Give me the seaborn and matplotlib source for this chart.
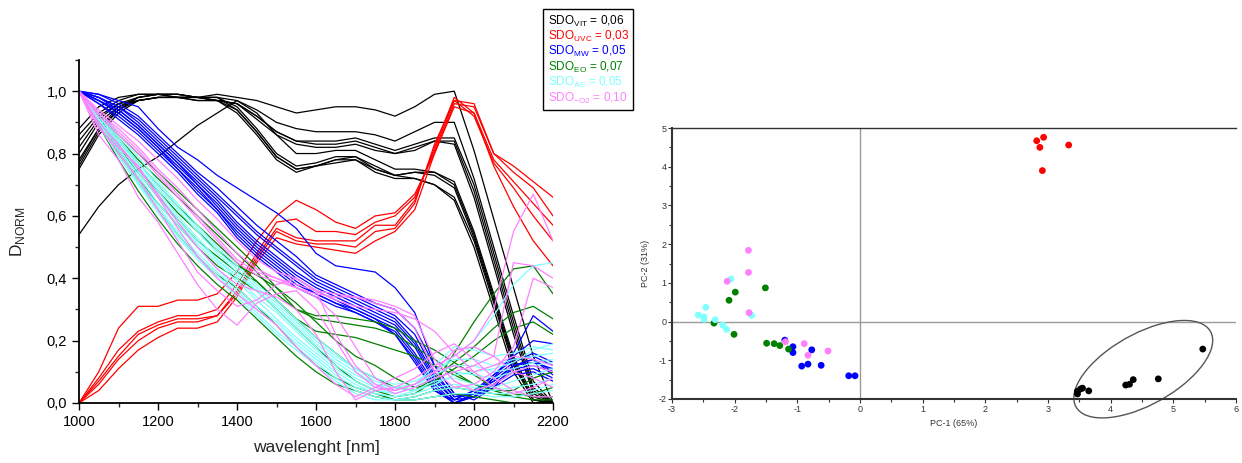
"""Normalised NIR spectra of the six SDO samples and their PCA score plot."""

import matplotlib

matplotlib.use("Agg")
import matplotlib.pyplot as plt
import pandas as pd
import seaborn as sns
from matplotlib.lines import Line2D
from matplotlib.patches import Ellipse
from matplotlib.ticker import MultipleLocator


WAVELENGTH = list(range(1000, 2201, 50))

GROUPS = ["VIT", "UVC", "MW", "EO", "AE", "O2"]
COLORS = ["#000000", "#ff0000", "#0000ff", "#008000", "#80ffff", "#ff80ff"]
LEGEND_LABELS = [
    r"SDO$_\mathregular{VIT}$ = 0,06",
    r"SDO$_\mathregular{UVC}$ = 0,03",
    r"SDO$_\mathregular{MW}$ = 0,05",
    r"SDO$_\mathregular{EO}$ = 0,07",
    r"SDO$_\mathregular{AE}$ = 0,05",
    r"SDO$_\mathregular{-O2}$ = 0,10",
]

# spectra, one list per sample, read every 50 nm
VIT_CURVES = [
    [0.88, 0.95, 0.98, 0.99, 0.99, 0.99, 0.98, 0.99, 0.98, 0.97, 0.95, 0.93, 0.94, 0.95, 0.95, 0.94, 0.92, 0.95, 0.99, 1.00, 0.81, 0.59, 0.37, 0.15, 0.00],
    [0.86, 0.93, 0.97, 0.99, 0.99, 0.98, 0.98, 0.98, 0.97, 0.94, 0.90, 0.88, 0.87, 0.87, 0.87, 0.86, 0.84, 0.87, 0.90, 0.90, 0.72, 0.50, 0.28, 0.07, 0.00],
    [0.84, 0.92, 0.96, 0.98, 0.99, 0.98, 0.98, 0.97, 0.96, 0.92, 0.87, 0.84, 0.83, 0.83, 0.84, 0.82, 0.80, 0.82, 0.84, 0.83, 0.66, 0.44, 0.22, 0.03, 0.00],
    [0.82, 0.91, 0.96, 0.97, 0.98, 0.98, 0.97, 0.97, 0.96, 0.91, 0.86, 0.83, 0.82, 0.82, 0.83, 0.81, 0.80, 0.81, 0.84, 0.84, 0.68, 0.46, 0.24, 0.04, 0.00],
    [0.80, 0.90, 0.95, 0.97, 0.98, 0.98, 0.97, 0.97, 0.96, 0.92, 0.87, 0.84, 0.84, 0.84, 0.85, 0.83, 0.81, 0.83, 0.85, 0.85, 0.70, 0.48, 0.26, 0.05, 0.00],
    [0.78, 0.88, 0.95, 0.98, 0.99, 0.99, 0.98, 0.98, 0.95, 0.88, 0.80, 0.76, 0.77, 0.79, 0.79, 0.76, 0.73, 0.74, 0.74, 0.70, 0.54, 0.34, 0.14, 0.01, 0.00],
    [0.77, 0.88, 0.94, 0.98, 0.99, 0.99, 0.98, 0.98, 0.94, 0.87, 0.79, 0.75, 0.76, 0.78, 0.79, 0.75, 0.73, 0.74, 0.73, 0.69, 0.53, 0.33, 0.13, 0.01, 0.00],
    [0.76, 0.87, 0.94, 0.97, 0.98, 0.98, 0.98, 0.97, 0.94, 0.87, 0.79, 0.75, 0.76, 0.78, 0.78, 0.75, 0.73, 0.72, 0.70, 0.66, 0.52, 0.32, 0.12, 0.01, 0.00],
    [0.75, 0.86, 0.93, 0.97, 0.98, 0.98, 0.98, 0.97, 0.93, 0.86, 0.78, 0.74, 0.76, 0.77, 0.78, 0.74, 0.72, 0.72, 0.70, 0.65, 0.50, 0.30, 0.10, 0.00, 0.00],
    [0.54, 0.63, 0.70, 0.75, 0.79, 0.84, 0.89, 0.93, 0.97, 0.93, 0.86, 0.80, 0.80, 0.81, 0.81, 0.78, 0.75, 0.75, 0.74, 0.71, 0.55, 0.35, 0.15, 0.02, 0.00],
]
UVC_CURVES = [
    [0.00, 0.10, 0.24, 0.31, 0.31, 0.33, 0.33, 0.35, 0.42, 0.52, 0.60, 0.65, 0.62, 0.58, 0.56, 0.60, 0.61, 0.67, 0.80, 0.96, 0.95, 0.80, 0.76, 0.71, 0.66],
    [0.00, 0.08, 0.17, 0.23, 0.26, 0.28, 0.28, 0.30, 0.38, 0.48, 0.58, 0.59, 0.55, 0.55, 0.54, 0.58, 0.60, 0.66, 0.81, 0.97, 0.96, 0.80, 0.74, 0.69, 0.60],
    [0.00, 0.07, 0.15, 0.22, 0.25, 0.27, 0.27, 0.28, 0.36, 0.47, 0.56, 0.53, 0.52, 0.52, 0.52, 0.57, 0.57, 0.65, 0.82, 0.98, 0.93, 0.78, 0.71, 0.64, 0.57],
    [0.00, 0.06, 0.14, 0.20, 0.24, 0.26, 0.26, 0.28, 0.35, 0.46, 0.55, 0.52, 0.51, 0.51, 0.50, 0.55, 0.56, 0.64, 0.83, 0.97, 0.92, 0.77, 0.69, 0.60, 0.52],
    [0.00, 0.04, 0.11, 0.17, 0.21, 0.24, 0.24, 0.26, 0.34, 0.45, 0.53, 0.51, 0.50, 0.49, 0.48, 0.52, 0.55, 0.62, 0.80, 0.95, 0.93, 0.76, 0.63, 0.52, 0.44],
]
MW_CURVES = [
    [1.00, 0.99, 0.97, 0.95, 0.88, 0.82, 0.78, 0.73, 0.69, 0.65, 0.61, 0.56, 0.48, 0.44, 0.43, 0.42, 0.37, 0.29, 0.12, 0.03, 0.01, 0.05, 0.12, 0.14, 0.10],
    [1.00, 0.99, 0.96, 0.92, 0.86, 0.80, 0.74, 0.69, 0.63, 0.57, 0.52, 0.47, 0.41, 0.38, 0.35, 0.32, 0.30, 0.24, 0.12, 0.03, 0.02, 0.08, 0.16, 0.28, 0.23],
    [1.00, 0.98, 0.95, 0.91, 0.85, 0.79, 0.73, 0.67, 0.61, 0.55, 0.50, 0.45, 0.40, 0.37, 0.34, 0.31, 0.28, 0.22, 0.10, 0.02, 0.03, 0.09, 0.15, 0.20, 0.19],
    [1.00, 0.98, 0.95, 0.90, 0.84, 0.78, 0.72, 0.66, 0.60, 0.54, 0.49, 0.44, 0.39, 0.36, 0.33, 0.30, 0.27, 0.20, 0.09, 0.02, 0.03, 0.08, 0.13, 0.16, 0.13],
    [1.00, 0.97, 0.94, 0.89, 0.83, 0.77, 0.71, 0.65, 0.58, 0.52, 0.47, 0.42, 0.38, 0.35, 0.32, 0.29, 0.26, 0.19, 0.08, 0.01, 0.04, 0.07, 0.12, 0.13, 0.11],
    [1.00, 0.97, 0.93, 0.88, 0.82, 0.76, 0.70, 0.64, 0.57, 0.51, 0.46, 0.41, 0.37, 0.34, 0.31, 0.28, 0.25, 0.18, 0.07, 0.01, 0.02, 0.06, 0.11, 0.12, 0.10],
    [1.00, 0.98, 0.94, 0.89, 0.83, 0.77, 0.70, 0.63, 0.56, 0.50, 0.45, 0.40, 0.36, 0.33, 0.30, 0.27, 0.24, 0.16, 0.06, 0.00, 0.03, 0.07, 0.12, 0.14, 0.09],
    [1.00, 0.96, 0.92, 0.87, 0.81, 0.75, 0.69, 0.62, 0.55, 0.49, 0.44, 0.39, 0.35, 0.32, 0.29, 0.26, 0.23, 0.15, 0.05, 0.00, 0.02, 0.06, 0.10, 0.11, 0.08],
    [1.00, 0.97, 0.93, 0.88, 0.82, 0.75, 0.68, 0.62, 0.54, 0.48, 0.43, 0.38, 0.35, 0.32, 0.30, 0.27, 0.22, 0.14, 0.04, 0.01, 0.04, 0.09, 0.14, 0.15, 0.12],
    [1.00, 0.96, 0.91, 0.86, 0.80, 0.74, 0.67, 0.61, 0.53, 0.47, 0.42, 0.37, 0.34, 0.31, 0.29, 0.26, 0.22, 0.13, 0.04, 0.00, 0.02, 0.05, 0.09, 0.10, 0.07],
]
EO_CURVES = [
    [1.00, 0.93, 0.86, 0.80, 0.74, 0.68, 0.62, 0.56, 0.50, 0.44, 0.37, 0.30, 0.28, 0.28, 0.27, 0.26, 0.24, 0.20, 0.17, 0.13, 0.09, 0.05, 0.03, 0.02, 0.02],
    [1.00, 0.92, 0.85, 0.78, 0.72, 0.66, 0.60, 0.54, 0.48, 0.42, 0.35, 0.30, 0.27, 0.26, 0.25, 0.24, 0.22, 0.18, 0.14, 0.10, 0.06, 0.04, 0.02, 0.03, 0.05],
    [1.00, 0.92, 0.84, 0.77, 0.70, 0.63, 0.57, 0.51, 0.45, 0.39, 0.33, 0.27, 0.23, 0.22, 0.21, 0.19, 0.17, 0.15, 0.12, 0.09, 0.06, 0.04, 0.04, 0.08, 0.10],
    [1.00, 0.91, 0.83, 0.75, 0.68, 0.61, 0.55, 0.49, 0.44, 0.41, 0.37, 0.32, 0.26, 0.20, 0.15, 0.12, 0.08, 0.05, 0.06, 0.16, 0.26, 0.35, 0.43, 0.44, 0.35],
    [1.00, 0.91, 0.82, 0.74, 0.66, 0.59, 0.52, 0.47, 0.42, 0.39, 0.33, 0.27, 0.21, 0.16, 0.11, 0.08, 0.05, 0.04, 0.08, 0.13, 0.18, 0.24, 0.29, 0.31, 0.27],
    [1.00, 0.90, 0.81, 0.72, 0.64, 0.57, 0.50, 0.44, 0.40, 0.36, 0.30, 0.24, 0.18, 0.12, 0.07, 0.04, 0.02, 0.03, 0.07, 0.11, 0.15, 0.20, 0.24, 0.26, 0.22],
    [1.00, 0.90, 0.80, 0.71, 0.62, 0.54, 0.47, 0.41, 0.37, 0.31, 0.25, 0.18, 0.12, 0.08, 0.05, 0.03, 0.01, 0.02, 0.04, 0.05, 0.04, 0.03, 0.02, 0.01, 0.01],
    [1.00, 0.89, 0.78, 0.68, 0.59, 0.51, 0.44, 0.38, 0.33, 0.27, 0.21, 0.15, 0.10, 0.06, 0.04, 0.02, 0.01, 0.01, 0.02, 0.03, 0.02, 0.01, 0.00, 0.00, 0.00],
]
AE_CURVES = [
    [1.00, 0.93, 0.86, 0.79, 0.71, 0.64, 0.57, 0.50, 0.44, 0.38, 0.33, 0.27, 0.21, 0.16, 0.11, 0.08, 0.06, 0.07, 0.10, 0.15, 0.20, 0.28, 0.38, 0.44, 0.45],
    [1.00, 0.92, 0.85, 0.77, 0.69, 0.62, 0.55, 0.48, 0.42, 0.36, 0.31, 0.25, 0.19, 0.14, 0.10, 0.06, 0.04, 0.06, 0.12, 0.18, 0.17, 0.15, 0.16, 0.18, 0.17],
    [1.00, 0.92, 0.84, 0.76, 0.68, 0.60, 0.53, 0.46, 0.40, 0.34, 0.29, 0.23, 0.17, 0.12, 0.08, 0.05, 0.03, 0.05, 0.10, 0.14, 0.14, 0.12, 0.14, 0.15, 0.16],
    [1.00, 0.91, 0.83, 0.74, 0.66, 0.58, 0.51, 0.45, 0.39, 0.33, 0.27, 0.21, 0.16, 0.11, 0.07, 0.04, 0.03, 0.05, 0.08, 0.10, 0.09, 0.08, 0.10, 0.12, 0.13],
    [1.00, 0.91, 0.82, 0.73, 0.64, 0.57, 0.50, 0.43, 0.37, 0.31, 0.26, 0.20, 0.15, 0.10, 0.06, 0.03, 0.02, 0.04, 0.07, 0.08, 0.06, 0.05, 0.07, 0.09, 0.11],
    [1.00, 0.90, 0.81, 0.72, 0.63, 0.55, 0.48, 0.42, 0.36, 0.30, 0.25, 0.19, 0.14, 0.09, 0.05, 0.03, 0.02, 0.03, 0.05, 0.06, 0.05, 0.04, 0.05, 0.06, 0.08],
    [1.00, 0.90, 0.80, 0.71, 0.62, 0.54, 0.47, 0.41, 0.35, 0.29, 0.23, 0.18, 0.13, 0.08, 0.04, 0.02, 0.01, 0.02, 0.04, 0.05, 0.04, 0.03, 0.03, 0.04, 0.06],
    [1.00, 0.89, 0.79, 0.70, 0.61, 0.53, 0.46, 0.40, 0.34, 0.28, 0.22, 0.17, 0.12, 0.07, 0.03, 0.01, 0.01, 0.01, 0.02, 0.03, 0.03, 0.02, 0.02, 0.03, 0.04],
    [1.00, 0.91, 0.83, 0.75, 0.67, 0.59, 0.52, 0.46, 0.41, 0.36, 0.30, 0.24, 0.18, 0.13, 0.09, 0.06, 0.05, 0.06, 0.09, 0.12, 0.12, 0.10, 0.11, 0.13, 0.14],
    [1.00, 0.92, 0.84, 0.77, 0.70, 0.63, 0.56, 0.49, 0.43, 0.37, 0.32, 0.26, 0.20, 0.15, 0.11, 0.07, 0.05, 0.04, 0.06, 0.09, 0.10, 0.11, 0.13, 0.17, 0.19],
]
O2_CURVES = [
    [1.00, 0.86, 0.78, 0.66, 0.58, 0.48, 0.38, 0.30, 0.25, 0.32, 0.35, 0.36, 0.30, 0.20, 0.10, 0.05, 0.04, 0.06, 0.10, 0.12, 0.10, 0.12, 0.15, 0.14, 0.12],
    [1.00, 0.89, 0.80, 0.72, 0.62, 0.52, 0.42, 0.36, 0.31, 0.33, 0.38, 0.40, 0.36, 0.22, 0.12, 0.06, 0.03, 0.05, 0.08, 0.10, 0.12, 0.15, 0.45, 0.44, 0.40],
    [1.00, 0.90, 0.83, 0.75, 0.67, 0.58, 0.50, 0.43, 0.38, 0.36, 0.34, 0.30, 0.22, 0.10, 0.01, 0.04, 0.05, 0.08, 0.12, 0.15, 0.20, 0.30, 0.55, 0.67, 0.52],
    [1.00, 0.92, 0.86, 0.80, 0.73, 0.66, 0.59, 0.52, 0.45, 0.41, 0.39, 0.37, 0.34, 0.28, 0.18, 0.08, 0.04, 0.06, 0.10, 0.17, 0.18, 0.15, 0.10, 0.08, 0.05],
    [1.00, 0.93, 0.88, 0.82, 0.75, 0.69, 0.62, 0.55, 0.48, 0.43, 0.40, 0.37, 0.35, 0.34, 0.34, 0.33, 0.31, 0.28, 0.14, 0.07, 0.04, 0.06, 0.10, 0.12, 0.10],
    [1.00, 0.93, 0.87, 0.81, 0.74, 0.67, 0.60, 0.53, 0.46, 0.42, 0.40, 0.38, 0.36, 0.35, 0.34, 0.32, 0.30, 0.24, 0.10, 0.05, 0.06, 0.10, 0.18, 0.40, 0.37],
    [1.00, 0.94, 0.89, 0.84, 0.78, 0.72, 0.65, 0.59, 0.52, 0.46, 0.42, 0.40, 0.36, 0.33, 0.31, 0.30, 0.29, 0.27, 0.23, 0.16, 0.10, 0.05, 0.03, 0.05, 0.08],
    [1.00, 0.88, 0.82, 0.76, 0.66, 0.56, 0.47, 0.40, 0.35, 0.30, 0.25, 0.18, 0.12, 0.06, 0.02, 0.05, 0.08, 0.11, 0.16, 0.19, 0.14, 0.08, 0.04, 0.02, 0.02],
]

# PCA scores
PC1 = {
    "VIT": [3.47, 3.47, 3.52, 3.55, 3.65, 4.24, 4.30, 4.36, 4.76, 5.47],
    "UVC": [2.82, 2.93, 2.87, 3.33, 2.91],
    "MW": [-1.20, -1.07, -1.07, -0.77, -0.83, -0.93, -0.62, -0.18, -0.08],
    "EO": [-1.51, -1.99, -2.09, -2.33, -2.01, -1.49, -1.37, -1.28, -1.14],
    "AE": [-2.06, -2.46, -2.58, -2.49, -2.49, -2.31, -2.19, -2.13, -1.73],
    "O2": [-1.78, -1.78, -2.12, -1.77, -1.19, -0.89, -0.83, -0.51],
}
PC2 = {
    "VIT": [-1.87, -1.80, -1.74, -1.72, -1.79, -1.64, -1.62, -1.50, -1.48, -0.71],
    "UVC": [4.67, 4.76, 4.50, 4.56, 3.90],
    "MW": [-0.48, -0.65, -0.80, -0.73, -1.10, -1.15, -1.13, -1.40, -1.40],
    "EO": [0.87, 0.76, 0.55, -0.04, -0.33, -0.56, -0.57, -0.62, -0.71],
    "AE": [1.10, 0.37, 0.17, 0.12, 0.06, 0.05, -0.09, -0.20, 0.16],
    "O2": [1.84, 1.27, 1.04, 0.23, -0.52, -0.57, -0.87, -0.76],
}


def build_spectra() -> pd.DataFrame:
    curves = dict(zip(GROUPS, [VIT_CURVES, UVC_CURVES, MW_CURVES, EO_CURVES, AE_CURVES, O2_CURVES]))
    frames = []
    for group, lines in curves.items():
        for i, values in enumerate(lines):
            frames.append(pd.DataFrame({
                "wavelength": WAVELENGTH,
                "d_norm": values,
                "group": group,
                "curve": f"{group}_{i}",
            }))
    return pd.concat(frames, ignore_index=True)


def build_scores() -> pd.DataFrame:
    frames = [pd.DataFrame({"pc1": PC1[g], "pc2": PC2[g], "group": g}) for g in GROUPS]
    return pd.concat(frames, ignore_index=True)


def main() -> None:
    sns.set_style("ticks")
    plt.rcParams["font.family"] = ["Liberation Sans", "DejaVu Sans"]
    plt.rcParams["mathtext.fontset"] = "custom"
    plt.rcParams["mathtext.rm"] = "Liberation Sans"
    plt.rcParams["axes.unicode_minus"] = False
    palette = dict(zip(GROUPS, COLORS))

    fig = plt.figure(figsize=(12.42, 4.63), dpi=100)

    # left: spectra
    ax1 = fig.add_axes([79 / 1242, 1 - 403 / 463, 474 / 1242, 343 / 463])
    sns.lineplot(
        data=build_spectra(), x="wavelength", y="d_norm", hue="group",
        units="curve", estimator=None, palette=palette, hue_order=GROUPS,
        linewidth=0.9, legend=False, ax=ax1,
    )
    ax1.set_xlim(1000, 2200)
    ax1.set_ylim(0, 1.1)
    ax1.set_xticks([1000, 1200, 1400, 1600, 1800, 2000, 2200])
    ax1.set_yticks([0, 0.2, 0.4, 0.6, 0.8, 1.0], ["0,0", "0,2", "0,4", "0,6", "0,8", "1,0"])
    ax1.xaxis.set_minor_locator(MultipleLocator(100))
    ax1.yaxis.set_minor_locator(MultipleLocator(0.1))
    ax1.tick_params(which="major", direction="out", length=5, width=1, labelsize=10.5, colors="black")
    ax1.tick_params(which="minor", direction="out", length=3, width=1)
    ax1.set_xlabel("wavelenght [nm]", fontsize=12.5, labelpad=8)
    ax1.set_ylabel(r"D$_\mathregular{NORM}$", fontsize=12.5, labelpad=14)
    sns.despine(ax=ax1)
    for side in ("left", "bottom"):
        ax1.spines[side].set_linewidth(1.3)
        ax1.spines[side].set_color("black")

    handles = [Line2D([], [], linestyle="none") for _ in GROUPS]
    leg = ax1.legend(
        handles, LEGEND_LABELS, labelcolor=COLORS, handlelength=0, handletextpad=0,
        loc="upper left", bbox_to_anchor=(543 / 1242, 1 - 9 / 463),
        bbox_transform=fig.transFigure, frameon=True, fancybox=False,
        edgecolor="black", framealpha=1, fontsize=8.5, labelspacing=0.02,
        borderpad=0.4, borderaxespad=0,
    )
    leg.get_frame().set_linewidth(1.0)

    # right: PCA scores
    ax2 = fig.add_axes([672 / 1242, 1 - 399 / 463, 564 / 1242, 271 / 463])
    ax2.axhline(0, color="#9a9a9a", linewidth=1, zorder=1)
    ax2.axvline(0, color="#9a9a9a", linewidth=1, zorder=1)
    sns.scatterplot(
        data=build_scores(), x="pc1", y="pc2", hue="group", palette=palette,
        hue_order=GROUPS, s=24, linewidth=0, legend=False, ax=ax2, zorder=3,
    )
    ax2.add_patch(Ellipse((4.52, -1.23), width=3.0, height=1.5, angle=51.1,
                          fill=False, edgecolor="#555555", linewidth=1, clip_on=False))
    ax2.set_xlim(-3, 6)
    ax2.set_ylim(-2, 5)
    ax2.xaxis.set_major_locator(MultipleLocator(1))
    ax2.yaxis.set_major_locator(MultipleLocator(1))
    ax2.xaxis.set_minor_locator(MultipleLocator(0.5))
    ax2.yaxis.set_minor_locator(MultipleLocator(0.5))
    ax2.tick_params(which="major", direction="out", length=3, width=0.8, labelsize=6.5, pad=1, colors="#333333")
    ax2.tick_params(which="minor", direction="out", length=2, width=0.8, colors="#333333")
    ax2.set_xlabel("PC-1 (65%)", fontsize=6.5, labelpad=4, color="#333333")
    ax2.set_ylabel("PC-2 (31%)", fontsize=6.5, labelpad=6, color="#333333")
    ax2.spines["right"].set_visible(False)
    ax2.spines["left"].set_linewidth(1.5)
    ax2.spines["bottom"].set_linewidth(1.5)
    ax2.spines["top"].set_linewidth(1.0)
    for side in ("left", "bottom", "top"):
        ax2.spines[side].set_color("#333333")

    fig.savefig("out.png", dpi=100)
    plt.close(fig)


if __name__ == "__main__":
    main()
